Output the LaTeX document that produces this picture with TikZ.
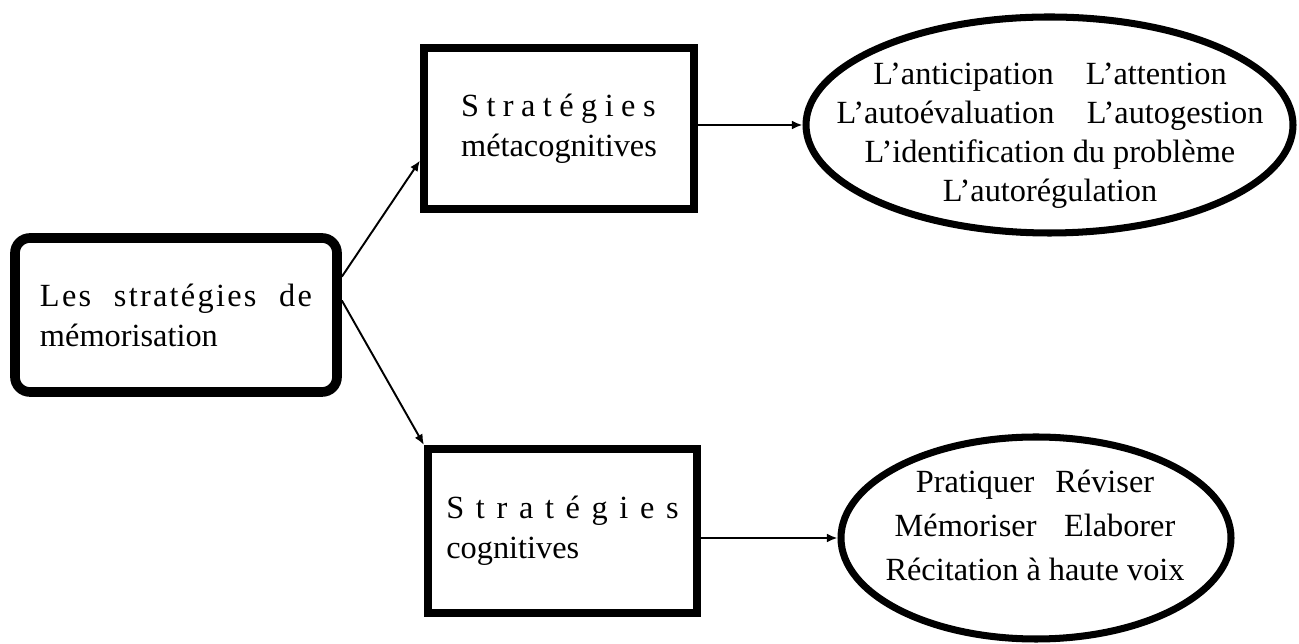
\documentclass[tikz,border=0pt]{standalone}
\usepackage{fontspec}
\setmainfont{Liberation Serif}
\usepackage{tikz}
\usetikzlibrary{arrows.meta}
\usetikzlibrary{shapes.geometric}

\tikzset{
  mainbox/.style={draw, line width=5.5pt, rounded corners=0.3cm, align=left, inner sep=0pt},
  stratbox/.style={draw, line width=4.6pt, align=left, inner sep=0pt},
  listshape/.style={draw, ellipse, line width=4pt, inner sep=0pt},
  listtext/.style={align=center, inner sep=0pt},
  link/.style={-{Latex[length=6pt,width=5pt]}, line width=1.1pt}
}

\begin{document}
\begin{tikzpicture}[font=\fontsize{18.4}{22.8}\selectfont]
\path[use as bounding box, fill=white] (0,0) rectangle (25.98,12.88);

\node[mainbox, minimum width=6.44cm, minimum height=3.08cm] (memo) at (3.52,6.58)
  {\makebox[5.44cm][s]{\addfontfeatures{LetterSpace=7}Les stratégies de}\\mémorisation};

\node[stratbox, minimum width=5.40cm, minimum height=3.22cm] (meta) at (11.18,10.31)
  {{\addfontfeatures{LetterSpace=23}Stratégies}\\métacognitives};

\node[stratbox, minimum width=5.38cm, minimum height=3.28cm] (cogn) at (11.25,2.26)
  {{\addfontfeatures{LetterSpace=36}Stratégies}\\cognitives};

\node[listshape, minimum width=9.74cm, minimum height=4.32cm] (metalist) at (20.99,10.38) {};
\node[listtext, font=\fontsize{18.4}{22.1}\selectfont] (metalisttext) at (21.0,10.16)
  {L’anticipation\quad L’attention\\L’autoévaluation\quad L’autogestion\\L’identification du problème\\L’autorégulation};

\node[listshape, minimum width=7.80cm, minimum height=4.04cm] (cognlist) at (20.72,2.12) {};
\node[listtext, font=\fontsize{18.4}{25}\selectfont] (cognlisttext) at (20.70,2.38)
  {Pratiquer\hspace{0.4em} Réviser\\Mémoriser\hspace{0.6em} Elaborer\\Récitation à haute voix};

\draw[link] (memo.13) -- (meta.193);
\draw[link] (memo.5) -- (cogn.north west);

\draw[link] (metalist.west -| meta.east) -- (metalist.west);
\draw[link] (cognlist.west -| cogn.east) -- (cognlist.west);

\end{tikzpicture}
\end{document}
